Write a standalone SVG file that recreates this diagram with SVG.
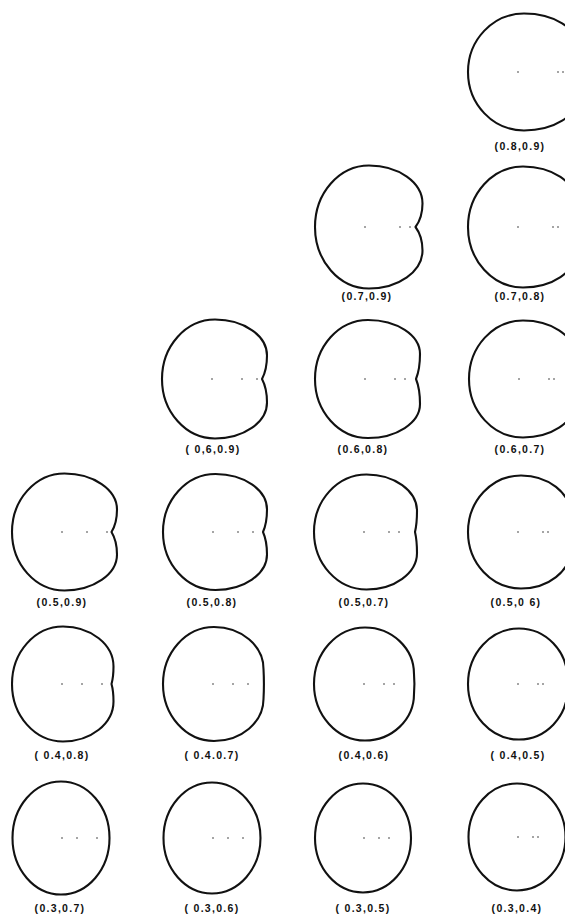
<svg xmlns="http://www.w3.org/2000/svg" width="565" height="915" viewBox="0 0 565 915">
  <style>
    .curve { fill: none; stroke: #111; stroke-width: 0.042; stroke-linejoin: round; }
    .dot { fill: #333; }
    .lbl { font-family: "Liberation Sans", Arial, sans-serif; font-size: 10.5px; font-weight: bold; fill: #111; text-anchor: middle; letter-spacing: 1.3px; }
  </style>
  <rect width="565" height="915" fill="#fff"/>

  <!-- row 1 -->
  <g id="shape-08-09">
    <path class="curve" transform="translate(518,72) scale(50)" d="M-1,0 C-1,-0.646 -0.498,-1.17 0.12,-1.17 C0.716,-1.17 1.2,-0.87 1.2,-0.5 C1.2,-0.275 1.15,-0.1 1.1,0 C1.15,0.1 1.2,0.275 1.2,0.5 C1.2,0.87 0.716,1.17 0.12,1.17 C-0.498,1.17 -1,0.646 -1,0Z"/>
    <circle class="dot" cx="518" cy="72" r="0.8"/><circle class="dot" cx="558" cy="72" r="0.8"/><circle class="dot" cx="563" cy="72" r="0.8"/>
    <text class="lbl" x="520" y="150">(0.8,0.9)</text>
  </g>

  <!-- row 2 -->
  <g id="shape-07-09">
    <path class="curve" transform="translate(365,227) scale(50)" d="M-1,0 C-1,-0.679 -0.516,-1.23 0.08,-1.23 C0.671,-1.23 1.15,-0.89 1.15,-0.47 C1.15,-0.259 1.08,-0.094 1.01,0 C1.08,0.094 1.15,0.259 1.15,0.47 C1.15,0.89 0.671,1.23 0.08,1.23 C-0.516,1.23 -1,0.679 -1,0Z"/>
    <circle class="dot" cx="365" cy="227" r="0.8"/><circle class="dot" cx="400" cy="227" r="0.8"/><circle class="dot" cx="410" cy="227" r="0.8"/>
    <text class="lbl" x="367" y="300">(0.7,0.9)</text>
  </g>
  <g id="shape-07-08">
    <path class="curve" transform="translate(518,227) scale(50)" d="M-1,0 C-1,-0.668 -0.507,-1.21 0.1,-1.21 C0.685,-1.21 1.16,-0.892 1.16,-0.5 C1.16,-0.275 1.1,-0.1 1.04,0 C1.1,0.1 1.16,0.275 1.16,0.5 C1.16,0.892 0.685,1.21 0.1,1.21 C-0.507,1.21 -1,0.668 -1,0Z"/>
    <circle class="dot" cx="518" cy="227" r="0.8"/><circle class="dot" cx="553" cy="227" r="0.8"/><circle class="dot" cx="558" cy="227" r="0.8"/>
    <text class="lbl" x="520" y="300">(0.7,0.8)</text>
  </g>

  <!-- row 3 -->
  <g id="shape-06-09">
    <path class="curve" transform="translate(212,379) scale(50)" d="M-1,0 C-1,-0.657 -0.525,-1.19 0.06,-1.19 C0.634,-1.19 1.1,-0.867 1.1,-0.47 C1.1,-0.259 1.05,-0.094 1,0 C1.05,0.094 1.1,0.259 1.1,0.47 C1.1,0.867 0.634,1.19 0.06,1.19 C-0.525,1.19 -1,0.657 -1,0Z"/>
    <circle class="dot" cx="212" cy="379" r="0.8"/><circle class="dot" cx="242" cy="379" r="0.8"/><circle class="dot" cx="257" cy="379" r="0.8"/>
    <text class="lbl" x="213" y="453">( 0,6,0.9)</text>
  </g>
  <g id="shape-06-08">
    <path class="curve" transform="translate(365,379) scale(50)" d="M-1,0 C-1,-0.651 -0.525,-1.18 0.06,-1.18 C0.634,-1.18 1.1,-0.875 1.1,-0.5 C1.1,-0.275 1.06,-0.1 1.02,0 C1.06,0.1 1.1,0.275 1.1,0.5 C1.1,0.875 0.634,1.18 0.06,1.18 C-0.525,1.18 -1,0.651 -1,0Z"/>
    <circle class="dot" cx="365" cy="379" r="0.8"/><circle class="dot" cx="395" cy="379" r="0.8"/><circle class="dot" cx="405" cy="379" r="0.8"/>
    <text class="lbl" x="363" y="453">(0.6,0.8)</text>
  </g>
  <g id="shape-06-07">
    <path class="curve" transform="translate(519,379) scale(50)" d="M-1,0 C-1,-0.646 -0.516,-1.17 0.08,-1.17 C0.643,-1.17 1.1,-0.87 1.1,-0.5 C1.1,-0.275 1.075,-0.1 1.05,0 C1.075,0.1 1.1,0.275 1.1,0.5 C1.1,0.87 0.643,1.17 0.08,1.17 C-0.516,1.17 -1,0.646 -1,0Z"/>
    <circle class="dot" cx="519" cy="379" r="0.8"/><circle class="dot" cx="549" cy="379" r="0.8"/><circle class="dot" cx="554" cy="379" r="0.8"/>
    <text class="lbl" x="520" y="453">(0.6,0.7)</text>
  </g>

  <!-- row 4 -->
  <g id="shape-05-09">
    <path class="curve" transform="translate(62,532) scale(50)" d="M-1,0 C-1,-0.646 -0.53,-1.17 0.05,-1.17 C0.63,-1.17 1.1,-0.847 1.1,-0.45 C1.1,-0.248 1.045,-0.09 0.99,0 C1.045,0.09 1.1,0.248 1.1,0.45 C1.1,0.847 0.63,1.17 0.05,1.17 C-0.53,1.17 -1,0.646 -1,0Z"/>
    <circle class="dot" cx="62" cy="532" r="0.8"/><circle class="dot" cx="87" cy="532" r="0.8"/><circle class="dot" cx="107" cy="532" r="0.8"/>
    <text class="lbl" x="62" y="606">(0.5,0.9)</text>
  </g>
  <g id="shape-05-08">
    <path class="curve" transform="translate(213,532) scale(50)" d="M-1,0 C-1,-0.64 -0.53,-1.16 0.05,-1.16 C0.619,-1.16 1.08,-0.842 1.08,-0.45 C1.08,-0.248 1.04,-0.09 1,0 C1.04,0.09 1.08,0.248 1.08,0.45 C1.08,0.842 0.619,1.16 0.05,1.16 C-0.53,1.16 -1,0.64 -1,0Z"/>
    <circle class="dot" cx="213" cy="532" r="0.8"/><circle class="dot" cx="238" cy="532" r="0.8"/><circle class="dot" cx="253" cy="532" r="0.8"/>
    <text class="lbl" x="212" y="606">(0.5,0.8)</text>
  </g>
  <g id="shape-05-07">
    <path class="curve" transform="translate(364,532) scale(50)" d="M-1,0 C-1,-0.635 -0.53,-1.15 0.05,-1.15 C0.608,-1.15 1.06,-0.823 1.06,-0.42 C1.06,-0.23 1.04,-0.085 1.02,0 C1.04,0.085 1.06,0.23 1.06,0.42 C1.06,0.823 0.608,1.15 0.05,1.15 C-0.53,1.15 -1,0.635 -1,0Z"/>
    <circle class="dot" cx="364" cy="532" r="0.8"/><circle class="dot" cx="389" cy="532" r="0.8"/><circle class="dot" cx="399" cy="532" r="0.8"/>
    <text class="lbl" x="364" y="606">(0.5,0.7)</text>
  </g>
  <g id="shape-05-06">
    <path class="curve" transform="translate(518,532) scale(50)" d="M-1,0 C-1,-0.624 -0.525,-1.13 0.06,-1.13 C0.606,-1.13 1.05,-0.781 1.05,-0.35 C1.05,-0.19 1.045,-0.07 1.04,0 C1.045,0.07 1.05,0.19 1.05,0.35 C1.05,0.781 0.606,1.13 0.06,1.13 C-0.525,1.13 -1,0.624 -1,0Z"/>
    <circle class="dot" cx="518" cy="532" r="0.8"/><circle class="dot" cx="543" cy="532" r="0.8"/><circle class="dot" cx="548" cy="532" r="0.8"/>
    <text class="lbl" x="516" y="606">(0.5,0 6)</text>
  </g>

  <!-- row 5 -->
  <g id="shape-04-08">
    <path class="curve" transform="translate(62,684) scale(50)" d="M-1,0 C-1,-0.635 -0.543,-1.15 0.02,-1.15 C0.578,-1.15 1.03,-0.792 1.03,-0.35 C1.03,-0.19 1.01,-0.07 0.99,0 C1.01,0.07 1.03,0.19 1.03,0.35 C1.03,0.792 0.578,1.15 0.02,1.15 C-0.543,1.15 -1,0.635 -1,0Z"/>
    <circle class="dot" cx="62" cy="684" r="0.8"/><circle class="dot" cx="82" cy="684" r="0.8"/><circle class="dot" cx="102" cy="684" r="0.8"/>
    <text class="lbl" x="62" y="759">( 0.4,0.8)</text>
  </g>
  <g id="shape-04-07">
    <path class="curve" transform="translate(213,684) scale(50)" d="M-1,0 C-1,-0.629 -0.543,-1.14 0.02,-1.14 C0.567,-1.14 1.01,-0.764 1.01,-0.3 C1.02,-0.12 1.02,0.12 1.01,0.3 C1.01,0.764 0.567,1.14 0.02,1.14 C-0.543,1.14 -1,0.629 -1,0Z"/>
    <circle class="dot" cx="213" cy="684" r="0.8"/><circle class="dot" cx="233" cy="684" r="0.8"/><circle class="dot" cx="248" cy="684" r="0.8"/>
    <text class="lbl" x="212" y="759">( 0.4.0.7)</text>
  </g>
  <g id="shape-04-06">
    <path class="curve" transform="translate(364,684) scale(50)" d="M-1,0 C-1,-0.624 -0.543,-1.13 0.02,-1.13 C0.561,-1.13 1,-0.713 1,-0.2 C1.01,-0.08 1.01,0.08 1,0.2 C1,0.713 0.561,1.13 0.02,1.13 C-0.543,1.13 -1,0.624 -1,0Z"/>
    <circle class="dot" cx="364" cy="684" r="0.8"/><circle class="dot" cx="384" cy="684" r="0.8"/><circle class="dot" cx="394" cy="684" r="0.8"/>
    <text class="lbl" x="364" y="759">(0.4,0.6)</text>
  </g>
  <g id="shape-04-05">
    <path class="curve" transform="translate(518,684) scale(50)" d="M-1,0 C-1,-0.613 -0.543,-1.11 0.02,-1.11 C0.556,-1.11 0.99,-0.657 0.99,-0.1 L0.99,0.1 C0.99,0.657 0.556,1.11 0.02,1.11 C-0.543,1.11 -1,0.613 -1,0Z"/>
    <circle class="dot" cx="518" cy="684" r="0.8"/><circle class="dot" cx="538" cy="684" r="0.8"/><circle class="dot" cx="543" cy="684" r="0.8"/>
    <text class="lbl" x="518" y="759">( 0.4,0.5)</text>
  </g>

  <!-- row 6 -->
  <g id="shape-03-07">
    <ellipse class="curve" transform="translate(61,838) scale(50)" rx="0.97" ry="1.13"/>
    <circle class="dot" cx="62" cy="838" r="0.8"/><circle class="dot" cx="77" cy="838" r="0.8"/><circle class="dot" cx="97" cy="838" r="0.8"/>
    <text class="lbl" x="60" y="912">(0.3,0.7)</text>
  </g>
  <g id="shape-03-06">
    <ellipse class="curve" transform="translate(212,838) scale(50)" rx="0.97" ry="1.11"/>
    <circle class="dot" cx="213" cy="838" r="0.8"/><circle class="dot" cx="228" cy="838" r="0.8"/><circle class="dot" cx="243" cy="838" r="0.8"/>
    <text class="lbl" x="212" y="912">( 0.3,0.6)</text>
  </g>
  <g id="shape-03-05">
    <ellipse class="curve" transform="translate(363,838) scale(50)" rx="0.96" ry="1.09"/>
    <circle class="dot" cx="364" cy="838" r="0.8"/><circle class="dot" cx="379" cy="838" r="0.8"/><circle class="dot" cx="389" cy="838" r="0.8"/>
    <text class="lbl" x="363" y="912">( 0.3,0.5)</text>
  </g>
  <g id="shape-03-04">
    <ellipse class="curve" transform="translate(517,837) scale(50)" rx="0.97" ry="1.07"/>
    <circle class="dot" cx="518" cy="837" r="0.8"/><circle class="dot" cx="533" cy="837" r="0.8"/><circle class="dot" cx="538" cy="837" r="0.8"/>
    <text class="lbl" x="517" y="912">(0.3,0.4)</text>
  </g>
</svg>
